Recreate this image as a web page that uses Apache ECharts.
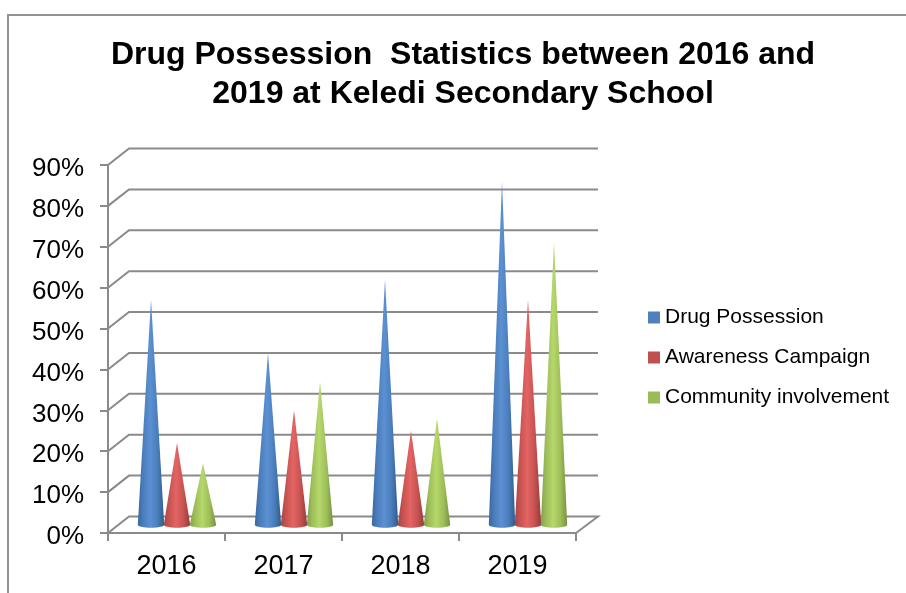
<!DOCTYPE html>
<html>
<head>
<meta charset="utf-8">
<style>html,body{margin:0;padding:0;background:#fff}#chart{width:906px;height:593px}</style>
<script src="https://cdn.jsdelivr.net/npm/echarts@6/dist/echarts.min.js"></script>
</head>
<body>
<div id="chart"></div>
<script>
// Percentages per year
const years = ['2016', '2017', '2018', '2019'];
const drugPossession = [55, 42, 60, 84];
const awarenessCampaign = [20, 28, 23, 55];
const communityInvolvement = [15, 35, 26, 69];
const gridTicks = [0, 10, 20, 30, 40, 50, 60, 70, 80, 90];

const FONT = '"Liberation Sans", Arial, sans-serif';
const AXIS = '#8a8a8a';
// Oblique offset of the back wall relative to the front plane
const DEPTH_X = 21, DEPTH_Y = 16.5;
const CONE_HALF = 13.2, CONE_RY = 3, CONE_STEP = 26;

// Wall and floor lines: front-left corner, back-left corner, back-right corner
function renderWallLine(params, api) {
  const v = api.value(0);
  const p = api.coord([0, v]);
  const x0 = params.coordSys.x, x1 = x0 + params.coordSys.width;
  const pts = [[x0, p[1]], [x0 + DEPTH_X, p[1] - DEPTH_Y], [x1 + DEPTH_X + 1, p[1] - DEPTH_Y]];
  if (v === 0) pts.push([x1, p[1]]);
  return {
    type: 'polyline', silent: true,
    shape: { points: pts },
    style: { fill: null, stroke: AXIS, lineWidth: 2 }
  };
}

// A cone standing on the mid-depth line of the floor
function coneRenderer(slot, stops) {
  return function (params, api) {
    const base = api.coord([api.value(0), 0]);
    const tip = api.coord([api.value(0), api.value(1)]);
    const cx = base[0] + DEPTH_X / 2 + slot * CONE_STEP;
    const by = base[1] - DEPTH_Y / 2;
    const ty = tip[1] - DEPTH_Y / 2;
    const pts = [[cx, ty]];
    for (let i = 0; i <= 16; i++) {
      const a = Math.PI * i / 16;
      pts.push([cx + CONE_HALF * Math.cos(a), by + CONE_RY * Math.sin(a)]);
    }
    return {
      type: 'polygon',
      shape: { points: pts },
      style: {
        fill: {
          type: 'linear', x: 0, y: 0, x2: 1, y2: 0,
          colorStops: stops
        }
      }
    };
  };
}

const shade = (edgeL, mid, hi, edgeR) => [
  { offset: 0, color: edgeL },
  { offset: 0.2, color: mid },
  { offset: 0.47, color: hi },
  { offset: 0.75, color: mid },
  { offset: 1, color: edgeR }
];

const seriesDefs = [
  { name: 'Drug Possession', values: drugPossession, slot: -1, color: '#4f81bd',
    stops: shade('#3a689f', '#4a7dbb', '#5b90d2', '#325a8c') },
  { name: 'Awareness Campaign', values: awarenessCampaign, slot: 0, color: '#c0504d',
    stops: shade('#a84442', '#c65351', '#e36463', '#963a39') },
  { name: 'Community involvement', values: communityInvolvement, slot: 1, color: '#9bbb59',
    stops: shade('#83a048', '#9dbe58', '#b6d76a', '#76923f') }
];

const chart = echarts.init(document.getElementById('chart'), null, { renderer: 'canvas' });
chart.setOption({
  animation: false,
  backgroundColor: '#fff',
  title: {
    text: 'Drug Possession  Statistics between 2016 and\n2019 at Keledi Secondary School',
    left: 458, top: 31, textAlign: 'center',
    textStyle: { fontFamily: FONT, fontSize: 32, fontWeight: 'bold', color: '#000', lineHeight: 39 }
  },
  legend: {
    orient: 'vertical', left: 643, top: 301, itemGap: 17,
    itemWidth: 12, itemHeight: 12, icon: 'rect',
    selectedMode: false,
    data: seriesDefs.map(s => s.name),
    textStyle: { fontFamily: FONT, fontSize: 21, color: '#000', lineHeight: 23 }
  },
  grid: { left: 108, right: 330, top: 165, bottom: 60 },
  xAxis: {
    type: 'category', data: years,
    axisLine: { lineStyle: { color: AXIS, width: 2 } },
    axisTick: { show: true, alignWithLabel: false, length: 8, lineStyle: { color: AXIS, width: 2 } },
    axisLabel: { fontFamily: FONT, fontSize: 27, color: '#000', margin: 20 },
    splitLine: { show: false }
  },
  yAxis: {
    type: 'value', min: 0, max: 90, interval: 10,
    axisLine: { show: true, lineStyle: { color: AXIS, width: 2 } },
    axisTick: { show: true, length: 8, lineStyle: { color: AXIS, width: 2 } },
    axisLabel: { fontFamily: FONT, fontSize: 26, color: '#000', margin: 24, verticalAlign: 'top', lineHeight: 8, formatter: '{value}%' },
    splitLine: { show: false }
  },
  graphic: [
    { type: 'polyline', silent: true, z: 0,
      shape: { points: [[8, 593], [8, 15], [906, 15]] },
      style: { fill: null, stroke: '#929292', lineWidth: 2 } }
  ],
  series: [
    {
      type: 'custom', name: 'walls', silent: true, z: 1,
      coordinateSystem: 'cartesian2d',
      encode: { y: 0 },
      data: gridTicks.map(t => [t]),
      renderItem: renderWallLine
    }
  ].concat(seriesDefs.map(s => ({
    type: 'custom', name: s.name, z: 3,
    coordinateSystem: 'cartesian2d',
    itemStyle: { color: s.color },
    encode: { x: 0, y: 1 },
    data: s.values.map((v, i) => [i, v]),
    renderItem: coneRenderer(s.slot, s.stops)
  })))
});
</script>
</body>
</html>
